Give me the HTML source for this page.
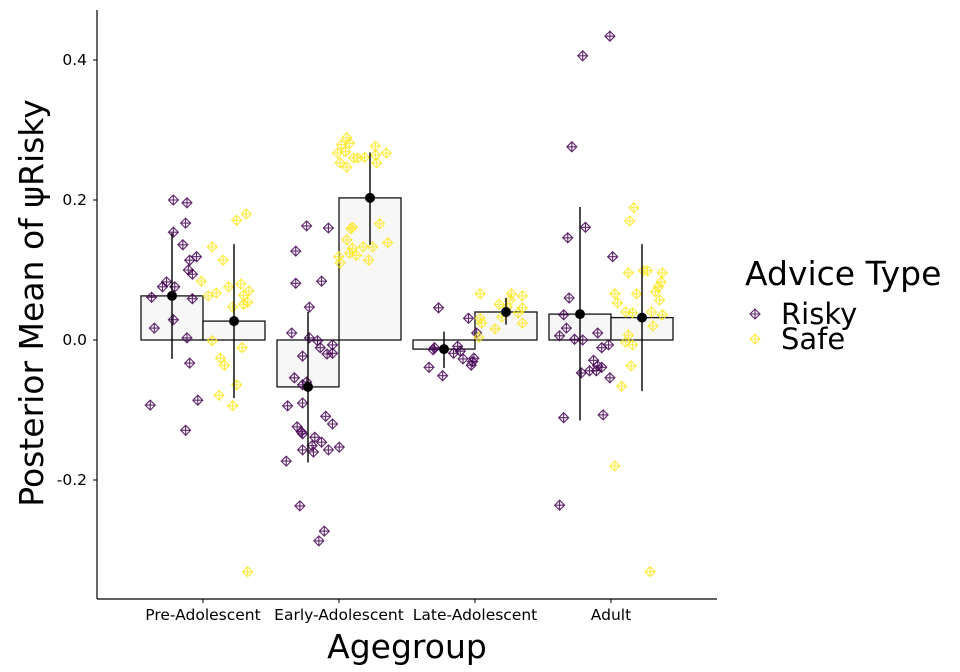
<!DOCTYPE html>
<html><head><meta charset="utf-8">
<style>
body{margin:0;background:#fff;}
svg{display:block;font-family:"DejaVu Sans","Liberation Sans",sans-serif;}
</style></head>
<body>
<svg id="chart" width="960" height="672" viewBox="0 0 960 672" xmlns="http://www.w3.org/2000/svg">
<g id="bars"></g>
<g id="points"></g>
<g id="errs"></g>
<g id="axes"></g>
<text transform="translate(43,303) rotate(-90)" text-anchor="middle" font-size="33">Posterior Mean of ψRisky</text>
<text x="407" y="658" text-anchor="middle" font-size="33">Agegroup</text>
<g>
<text x="745" y="285" font-size="33">Advice Type</text>
<g id="leg"></g>
</g>
</svg>
<script>
const categories=["Pre-Adolescent","Early-Adolescent","Late-Adolescent","Adult"];
const seriesNames=["Risky","Safe"];
const colors=["#440154","#FDE725"];
const yTicks=[-0.2,0.0,0.2,0.4];
const yTickLabels=["-0.2","0.0","0.2","0.4"];
const riskyMeans=[0.063,-0.067,-0.013,0.037];
const riskyLo=[-0.027,-0.175,-0.040,-0.115];
const riskyHi=[0.153,0.040,0.012,0.190];
const safeMeans=[0.027,0.203,0.040,0.032];
const safeLo=[-0.083,0.136,0.022,-0.073];
const safeHi=[0.137,0.268,0.060,0.137];
// individual points: values and jitter (category units)
const preRiskyVals=[.200,.196,.167,.154,.136,.114,.119,.100,.094,.083,.076,.076,.061,.059,.017,.029,.003,-.033,-.093,-.086,-.129];
const preRiskyJit=[.01,.11,.10,.01,.08,.13,.18,.12,.15,-.04,-.07,.02,-.15,.15,-.13,.01,.11,.13,-.16,.19,.10];
const preSafeVals=[.171,.180,.133,.114,.084,.063,.067,.076,.080,.070,.064,.054,.051,.047,-.001,-.011,-.026,-.036,-.064,-.079,-.094,-.331];
const preSafeJit=[.02,.09,-.16,-.08,-.24,-.19,-.13,-.04,.05,.11,.07,.10,.07,-.01,-.16,.06,-.10,-.07,.02,-.11,-.01,.10];
const earlyRiskyVals=[.163,.160,.127,.081,.084,.047,.010,.003,-.001,-.011,-.007,-.020,-.019,-.023,-.054,-.064,-.060,-.094,-.090,-.109,-.120,-.124,-.131,-.134,-.139,-.146,-.151,-.157,-.160,-.157,-.153,-.173,-.237,-.273,-.287];
const earlyRiskyJit=[-.01,.15,-.09,-.09,.10,.01,-.12,.01,.07,.09,.18,.14,.18,-.04,-.10,-.04,-.01,-.15,-.04,.13,.18,-.08,-.05,-.04,.05,.10,.03,-.04,.04,.15,.23,-.16,-.06,.12,.08];
const earlySafeVals=[.289,.279,.281,.267,.269,.260,.253,.247,.260,.261,.277,.264,.253,.267,.161,.159,.166,.143,.131,.124,.121,.133,.133,.139,.119,.110,.114];
const earlySafeJit=[-.17,-.21,-.15,-.24,-.18,-.12,-.22,-.17,-.09,-.04,.04,.04,.05,.12,-.13,-.14,.07,-.17,-.13,-.15,-.10,-.05,.02,.13,-.23,-.22,-.01];
const lateRiskyVals=[.046,.031,.010,-.011,-.014,-.009,-.016,-.019,-.027,-.026,-.031,-.036,-.039,-.051];
const lateRiskyJit=[-.04,.18,.24,-.07,-.08,.10,.12,.07,.14,.22,.21,.20,-.11,-.01];
const lateSafeVals=[.066,.066,.063,.057,.051,.047,.046,.039,.033,.031,.024,.024,.016,.004];
const lateSafeJit=[-.19,.04,.12,.03,-.05,.01,.12,.09,-.03,-.19,-.18,.12,-.08,-.20];
const adultRiskyVals=[.434,.406,.276,.161,.146,.119,.060,.036,.017,.006,.001,.000,.010,-.011,-.007,-.029,-.037,-.044,-.044,-.039,-.047,-.054,-.111,-.107,-.236];
const adultRiskyJit=[.22,.02,-.06,.04,-.09,.24,-.08,-.12,-.10,-.15,-.04,.02,.13,.16,.21,.10,.13,.07,.12,.16,.01,.22,-.12,.17,-.15];
const adultSafeVals=[.189,.170,.096,.099,.099,.096,.083,.076,.069,.057,.066,.066,.053,.040,.039,.040,.036,.020,.007,-.003,-.007,-.037,-.066,-.180,-.331];
const adultSafeJit=[-.06,-.09,-.10,.01,.04,.15,.14,.12,.10,.13,-.20,-.04,-.18,-.12,-.07,.07,.15,.08,-.10,-.12,-.07,-.08,-.15,-.20,.06];

const NS="http://www.w3.org/2000/svg";
const X0=97,X1=717,Y0=10,Y1=599;
const catStep=136, firstCat=203, dodge=62;
function xCat(i){return firstCat+i*catStep;}
function xS(i,s,j){return xCat(i)+(s===0?-dodge/2:dodge/2)+(j||0)*catStep;}
function yS(v){return 340-700*v;}
function mk(tag,attrs,parent){const e=document.createElementNS(NS,tag);for(const k in attrs)e.setAttribute(k,attrs[k]);parent.appendChild(e);return e;}
const bars=document.getElementById('bars'),pts=document.getElementById('points'),errs=document.getElementById('errs'),axes=document.getElementById('axes');
const means=[riskyMeans,safeMeans],los=[riskyLo,safeLo],his=[riskyHi,safeHi];
for(let s=0;s<2;s++)for(let i=0;i<4;i++){
  const cx=xS(i,s,0),y=yS(means[s][i]),y0=yS(0);
  const r=mk('rect',{x:cx-dodge/2,y:Math.min(y,y0),width:dodge,height:Math.abs(y-y0),fill:'#f7f7f7',stroke:'#111','stroke-width':1.3},bars);
  
  
}
function diamond(x,y,c,parent){
  const g=mk('g',{},parent);
  
  
  mk('path',{d:`M${x} ${y-5}L${x+5} ${y}L${x} ${y+5}L${x-5} ${y}Z M${x} ${y-5}V${y+5} M${x-5} ${y}H${x+5}`,fill:'none',stroke:c,'stroke-width':1.1,opacity:0.85},g);
  return g;
}
const ptSets=[[preRiskyVals,preRiskyJit,preSafeVals,preSafeJit],[earlyRiskyVals,earlyRiskyJit,earlySafeVals,earlySafeJit],[lateRiskyVals,lateRiskyJit,lateSafeVals,lateSafeJit],[adultRiskyVals,adultRiskyJit,adultSafeVals,adultSafeJit]];
for(let i=0;i<4;i++)for(let s=0;s<2;s++){
  const vals=ptSets[i][s*2],jit=ptSets[i][s*2+1];
  vals.forEach((v,k)=>diamond(xS(i,s,jit[k]),yS(v),colors[s],pts));
}
for(let s=0;s<2;s++)for(let i=0;i<4;i++){
  const cx=xS(i,s,0);
  const l=mk('line',{x1:cx,x2:cx,y1:yS(his[s][i]),y2:yS(los[s][i]),stroke:'#000','stroke-width':1.4},errs);
  
  
  const c=mk('circle',{cx:cx,cy:yS(means[s][i]),r:5,fill:'#000'},errs);
  
  
}
const ya=mk('line',{x1:X0,x2:X0,y1:Y0,y2:Y1,stroke:'#000','stroke-width':1.2},axes);


const xa=mk('line',{x1:X0,x2:X1,y1:Y1,y2:Y1,stroke:'#000','stroke-width':1.2},axes);


yTicks.forEach((t,k)=>{
  const y=yS(t);
  mk('line',{x1:X0-4,x2:X0,y1:y,y2:y,stroke:'#000'},axes);
  const tx=mk('text',{x:X0-10,y:y+5,'text-anchor':'end','font-size':15.5,fill:'#000'},axes);
  tx.textContent=yTickLabels[k];
  
  
});
categories.forEach((c,i)=>{
  const x=xCat(i);
  mk('line',{x1:x,x2:x,y1:Y1,y2:Y1+4,stroke:'#000'},axes);
  const tx=mk('text',{x:x,y:620,'text-anchor':'middle','font-size':15.5,fill:'#000'},axes);
  tx.textContent=c;
  
  
});
const leg=document.getElementById('leg');
seriesNames.forEach((n,s)=>{
  const y=314+s*25;
  const g=diamond(755,y,colors[s],leg);
  
  
  const tx=mk('text',{x:781,y:y+10,'font-size':29,fill:'#000'},leg);
  tx.textContent=n;
  
  
});
</script>
</body></html>
